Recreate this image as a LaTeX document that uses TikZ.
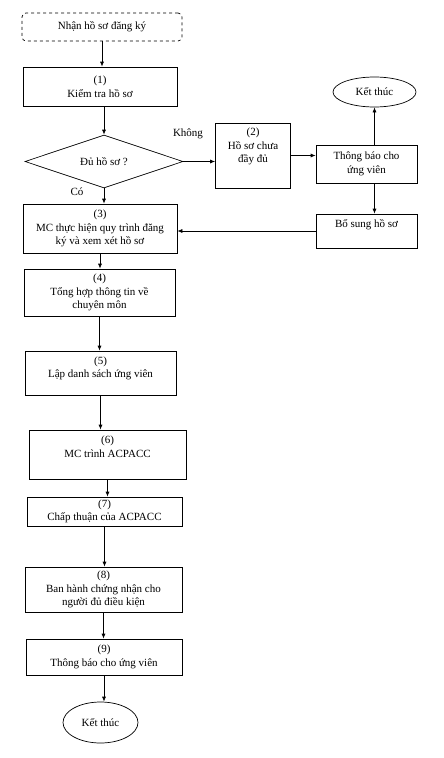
\documentclass[tikz,border=0pt]{standalone}
\usepackage{fontspec}
\setmainfont{Liberation Serif}
\usetikzlibrary{shapes.geometric,arrows.meta}

\begin{document}
\begin{tikzpicture}[x=1pt,y=-1pt,
    font=\fontsize{11}{13.5}\selectfont,
    hop/.style={draw,line width=0.7pt,align=center,inner sep=2pt},
    dau/.style={draw,dashed,rounded corners=4pt,line width=0.7pt,align=center},
    thoi/.style={draw,diamond,line width=0.7pt,inner sep=0pt,aspect=3},
    cuoi/.style={draw,ellipse,line width=0.7pt,inner sep=0pt},
    mui/.style={-{Latex[length=5pt,width=4pt]},line width=0.7pt}]
  \useasboundingbox (0,0) rectangle (444,758);
  %main column
  \node[dau,minimum width=160pt,minimum height=28pt] (nhan) at (102,27) {Nhận hồ sơ đăng ký};
  \node[hop,minimum width=154pt,minimum height=39pt] (b1) at (100,86.5) {(1)\\Kiểm tra hồ sơ};
  \node[thoi,minimum width=158pt,minimum height=53pt] (dhs) at (104,161.5) {Đủ hồ sơ ?};
  \node[hop,minimum width=154pt,minimum height=49pt] (b3) at (100,228.5) {(3)\\MC thực hiện quy trình đăng\\ký và xem xét hồ sơ};
  \node[hop,minimum width=151pt,minimum height=47pt] (b4) at (99.5,292.5) {(4)\\Tổng hợp thông tin về\\chuyên môn};
  \node[hop,minimum width=151pt,minimum height=44pt] (b5) at (100.5,373) {(5)\\Lập danh sách ứng viên\rule[-12pt]{0pt}{0pt}};
  \node[hop,minimum width=157pt,minimum height=49pt] (b6) at (107.5,454.5) {(6)\\MC trình ACPACC\rule[-16pt]{0pt}{0pt}};
  \node[hop,minimum width=155pt,minimum height=29pt] (b7) at (104.5,511.5) {(7)\\Chấp thuận của ACPACC};
  \node[hop,minimum width=157pt,minimum height=45pt] (b8) at (103.5,589.5) {(8)\\Ban hành chứng nhận cho\\người đủ điều kiện};
  \node[hop,minimum width=156pt,minimum height=36pt] (b9) at (104,657) {(9)\\Thông báo cho ứng viên};
  \node[cuoi,minimum width=75pt,minimum height=41pt] (kt2) at (100.5,722.5) {Kết thúc};
  %right branch
  \node[hop,minimum width=75pt,minimum height=65pt] (b2) at (253,155.5) {(2)\\Hồ sơ chưa\\đầy đủ\rule[-20pt]{0pt}{0pt}};
  \node[hop,minimum width=101pt,minimum height=38pt] (tb) at (366.5,164) {Thông báo cho\\ứng viên};
  \node[cuoi,minimum width=83pt,minimum height=30pt] (kt1) at (374.5,92) {Kết thúc};
  \node[hop,minimum width=101pt,minimum height=34pt] (bs) at (366.5,231) {Bổ sung hồ sơ\rule[-15pt]{0pt}{0pt}};
  \node (khong) at (188,134) {Không};
  \node (co) at (77,192) {Có};
  %arrows
  \draw[mui] (nhan.south) -- (nhan.south |- b1.north);
  \draw[mui] (b1.south -| dhs.north) -- (dhs.north);
  \draw[mui] (dhs.south) -- (dhs.south |- b3.north);
  \draw[mui] (b3.south) -- (b3.south |- b4.north);
  \draw[mui] (b4.south) -- (b4.south |- b5.north);
  \draw[mui] (b5.south) -- (b5.south |- b6.north);
  \draw[mui] (b6.south) -- (b6.south |- b7.north);
  \draw[mui] (b7.south) -- (b7.south |- b8.north);
  \draw[mui] (b8.south) -- (b8.south |- b9.north);
  \draw[mui] (b9.south) -- (b9.south |- kt2.north);
  \draw[mui] (dhs.east) -- (dhs.east -| b2.west);
  \draw[mui] (b2.east) -- (b2.east -| tb.west);
  \draw[mui] (tb.north -| kt1.south) -- (kt1.south);
  \draw[mui] (tb.south -| kt1.south) -- (bs.north -| kt1.south);
  \draw[mui] (bs.west) -- (bs.west -| b3.east);
\end{tikzpicture}
\end{document}
